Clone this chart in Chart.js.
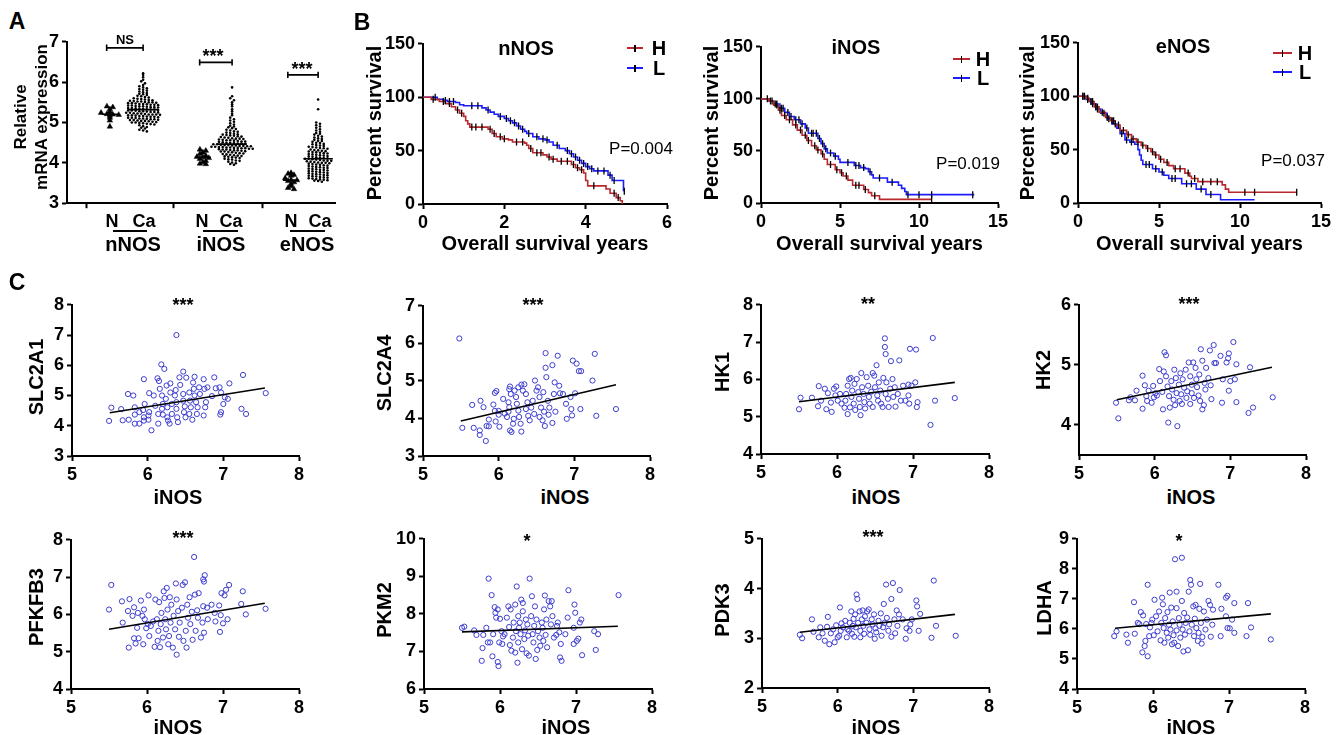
<!DOCTYPE html>
<html>
<head>
<meta charset="utf-8">
<title>NOS figure</title>
<script src="https://cdn.jsdelivr.net/npm/chart.js"></script>
<style>
  body { margin: 0; background: #fff; }
  #fig { position: relative; width: 1343px; height: 735px; overflow: hidden; }
  .t { position: absolute; white-space: nowrap; font-family: 'Liberation Sans', Arial, sans-serif;
       line-height: 1; transform: translate(-50%, -50%); color: #000; z-index: 2; }
  .r { transform: translate(-50%, -50%) rotate(-90deg); }
  .ln { position: absolute; z-index: 2; }
</style>
</head>
<body>
<div id="fig"></div>
<script>
// ---------- panel A : relative mRNA expression ----------
const nNosN  = [5.4, 5.38, 5.33, 5.27, 5.24, 5.21, 5.2, 5.19, 5.17, 5.12, 5.05, 4.9];
const nNosCa = [6.22,6.18,6.12,6.06,6.02,5.97,5.93,5.9,5.87,5.85,5.83,5.81,5.79,5.77,5.75,5.73,5.71,5.7,5.68,5.66,5.65,5.63,5.62,5.6,5.59,5.58,5.57,5.56,5.55,5.54,5.53,5.52,5.52,5.51,5.5,5.5,5.49,5.48,5.48,5.47,5.46,5.46,5.45,5.44,5.44,5.43,5.42,5.42,5.41,5.4,5.4,5.39,5.38,5.38,5.37,5.36,5.36,5.35,5.34,5.34,5.33,5.32,5.32,5.31,5.3,5.3,5.29,5.28,5.28,5.27,5.26,5.26,5.25,5.24,5.24,5.23,5.22,5.22,5.21,5.2,5.2,5.2,5.19,5.18,5.18,5.17,5.16,5.16,5.15,5.14,5.14,5.13,5.12,5.12,5.11,5.1,5.1,5.09,5.08,5.08,5.07,5.06,5.06,5.05,5.04,5.04,5.03,5.02,5.01,5.0,5.0,4.99,4.98,4.97,4.96,4.95,4.93,4.91,4.89,4.87,4.85,4.82,4.8,4.78];
const iNosN  = [4.33, 4.3, 4.26, 4.22, 4.18, 4.15, 4.14, 4.12, 4.1, 4.05, 4.02, 3.98, 3.97];
const iNosCa = [5.87,5.65,5.6,5.55,5.5,5.45,5.4,5.33,5.28,5.22,5.18,5.12,5.08,5.05,5.02,4.98,4.95,4.92,4.9,4.88,4.86,4.84,4.82,4.8,4.78,4.77,4.75,4.74,4.72,4.71,4.7,4.69,4.68,4.67,4.66,4.65,4.64,4.63,4.62,4.61,4.6,4.6,4.59,4.58,4.57,4.56,4.56,4.55,4.54,4.53,4.53,4.52,4.51,4.5,4.5,4.49,4.48,4.48,4.47,4.46,4.46,4.45,4.44,4.44,4.43,4.43,4.42,4.42,4.41,4.41,4.4,4.4,4.39,4.39,4.38,4.38,4.37,4.37,4.36,4.36,4.35,4.35,4.34,4.33,4.33,4.32,4.31,4.31,4.3,4.29,4.28,4.28,4.27,4.26,4.25,4.24,4.23,4.22,4.21,4.2,4.19,4.18,4.17,4.16,4.15,4.14,4.13,4.12,4.1,4.09,4.08,4.06,4.05,4.03,4.01,3.99,3.97,3.95];
const eNosN  = [3.75, 3.73, 3.7, 3.68, 3.62, 3.58, 3.57, 3.55, 3.52, 3.48, 3.42, 3.38, 3.35];
const eNosCa = [5.57,5.33,5.0,4.97,4.93,4.9,4.87,4.83,4.8,4.77,4.74,4.72,4.7,4.67,4.65,4.63,4.61,4.59,4.57,4.55,4.54,4.52,4.5,4.49,4.47,4.46,4.44,4.43,4.42,4.4,4.39,4.38,4.37,4.36,4.35,4.33,4.32,4.31,4.3,4.29,4.28,4.27,4.26,4.25,4.24,4.23,4.22,4.21,4.2,4.19,4.18,4.17,4.16,4.15,4.14,4.13,4.12,4.11,4.1,4.1,4.09,4.08,4.07,4.06,4.05,4.05,4.04,4.03,4.02,4.01,4.0,4.0,3.99,3.98,3.97,3.96,3.95,3.94,3.93,3.92,3.91,3.9,3.89,3.88,3.87,3.86,3.85,3.84,3.83,3.82,3.81,3.8,3.79,3.78,3.77,3.76,3.75,3.74,3.73,3.72,3.71,3.7,3.69,3.68,3.67,3.66,3.65,3.64,3.63,3.62,3.61,3.6,3.59,3.58,3.57,3.56,3.55,3.53];
const sigLevels = [6.85, 6.49, 6.18];
const sigLabels = ['NS', '***', '***'];

// ---------- panel B : Kaplan-Meier ----------
const nNosLT = [0,0.35,0.5,0.6,0.8,0.9,1.0,1.45,1.55,1.65,1.75,1.85,2.0,2.1,2.2,2.3,2.4,2.5,2.55,2.7,2.85,3.0,3.1,3.2,3.35,3.5,3.6,3.7,3.8,3.9,4.0,4.1,4.2,4.55,4.65,4.93];
const nNosLS = [100,98,97,96,95,93,92,90,88,86,84,82,80,78,76,73,70,68,66,63,61,60,58,55,52,50,47,44,41,38,35,33,31,27,22,12];
const nNosLC = [0.3,0.55,0.65,0.75,1.2,1.35,1.6,1.9,2.05,2.15,2.25,2.35,2.45,2.6,2.8,2.95,3.05,3.3,3.55,3.65,3.75,3.85,3.95,4.05,4.15,4.3,4.45,4.6,4.7,4.95];
const nNosHT = [0,0.2,0.4,0.55,0.7,0.8,0.9,1.0,1.05,1.1,1.15,1.6,1.7,1.8,1.95,2.1,2.2,2.5,2.55,2.6,2.7,2.95,3.05,3.15,3.3,3.65,3.75,3.85,3.95,4.0,4.05,4.5,4.6,4.75,4.85,4.9];
const nNosHS = [100,98,96,94,91,88,85,82,78,75,72,70,66,63,61,60,58,57,55,52,48,46,44,42,40,37,34,32,29,22,17,14,10,6,3,0];
const nNosHC = [0.25,0.5,0.65,0.85,0.95,1.2,1.3,1.45,1.65,1.75,1.9,2.0,2.3,2.45,2.65,2.8,2.9,3.1,3.2,3.4,3.55,3.7,3.8,3.9,4.2,4.7,4.8];

const iNosLT = [0,0.5,0.8,1.2,1.5,1.8,2.1,2.5,2.8,3.0,3.6,3.8,4.0,4.2,4.6,4.9,5.0,5.9,6.3,6.6,6.8,7.0,7.1,8.0,8.7,8.9,9.1,9.2,13.5];
const iNosLS = [100,98,95,91,87,83,80,76,72,67,62,57,52,48,45,42,39,36,34,33,30,27,24,20,17,14,11,8,8];
const iNosLC = [0.6,0.9,1.0,1.3,1.4,1.7,1.9,2.2,2.4,2.6,2.9,3.2,3.3,3.5,3.7,3.9,4.1,4.4,4.7,5.5,6.0,6.2,6.5,6.9,7.5,8.3,9.3,10.0,10.8,13.4];
const iNosHT = [0,0.5,0.8,1.1,1.3,1.6,2.0,2.3,2.6,2.9,3.2,3.5,3.8,4.0,4.2,4.7,5.0,5.2,5.5,5.8,6.5,6.8,7.0,7.5,10.8];
const iNosHS = [100,98,94,89,84,80,75,70,65,60,55,51,47,42,37,32,29,26,22,17,13,10,7,3.5,3.5];
const iNosHC = [0.4,0.7,1.0,1.2,1.5,1.8,2.2,2.5,2.8,3.0,3.4,3.6,3.9,4.4,4.8,5.1,5.4,6.0,6.2,6.6,7.2,10.8];

const eNosHT = [0,0.5,0.7,1.0,1.3,1.7,2.0,2.3,2.6,3.0,3.3,3.6,3.9,4.2,4.5,4.7,5.0,5.3,5.6,5.9,6.6,6.9,7.0,7.4,8.9,9.1,9.3,13.5];
const eNosHS = [100,98,95,90,85,80,77,73,68,64,60,57,54,51,48,45,41,38,35,32,28,25,23,20,17,13,10,10];
const eNosHC = [0.3,0.4,0.6,0.8,0.9,1.1,1.2,1.5,1.8,2.1,2.2,2.5,2.8,3.1,3.4,3.7,4.0,4.3,4.6,4.8,5.1,5.5,6.0,6.3,6.8,7.2,7.7,8.2,8.6,10.3,10.9,13.5];
const eNosLT = [0,0.5,0.8,1.1,1.4,1.8,2.1,2.4,2.6,2.9,3.2,3.5,3.7,3.8,3.9,4.0,4.6,5.0,5.3,5.6,6.4,7.3,7.9,8.8,10.9];
const eNosLS = [100,97,93,88,84,79,74,70,65,59,57,55,50,45,40,36,32,29,26,23,18,13,8,3,3];
const eNosLC = [0.3,0.6,0.9,1.2,1.6,1.9,2.3,2.7,3.0,3.3,4.2,4.4,4.8,5.2,5.8,6.0,6.7,7.0,7.6,8.2];
const pValues = ['P=0.004', 'P=0.019', 'P=0.037'];

// ---------- panel C : correlation with iNOS ----------
const fitX = [5.5, 7.55];
const slc2a1 = [[5.49,4.16],[5.52,4.6],[5.65,4.55],[5.67,4.18],[5.74,5.05],[5.81,5.0],[5.75,4.2],[5.83,4.61],[5.83,4.37],[5.83,4.07],[5.89,4.07],[5.89,4.45],[5.95,5.54],[5.94,4.52],[5.96,4.72],[5.95,4.28],[5.95,4.17],[6.02,4.45],[6.01,4.34],[6.02,5.08],[6.05,3.85],[6.01,4.2],[6.08,5.0],[6.1,4.66],[6.14,4.39],[6.14,4.07],[6.13,5.57],[6.15,5.48],[6.18,6.03],[6.22,5.88],[6.16,5.22],[6.19,5.0],[6.2,4.72],[6.19,4.56],[6.2,4.37],[6.25,5.33],[6.24,4.89],[6.26,4.61],[6.26,4.28],[6.27,4.17],[6.29,4.07],[6.3,5.4],[6.3,5.1],[6.32,4.72],[6.32,4.39],[6.38,7.0],[6.37,5.18],[6.36,5.0],[6.38,4.78],[6.38,4.56],[6.39,4.28],[6.4,4.12],[6.42,5.6],[6.43,5.35],[6.47,5.79],[6.51,5.59],[6.47,5.05],[6.47,4.83],[6.49,4.64],[6.48,4.45],[6.5,4.28],[6.55,5.1],[6.56,4.83],[6.57,4.61],[6.55,4.39],[6.59,4.2],[6.6,5.43],[6.62,5.62],[6.61,5.22],[6.62,5.0],[6.64,4.78],[6.66,4.61],[6.65,4.39],[6.68,5.27],[6.69,5.05],[6.74,4.34],[6.74,5.54],[6.75,5.22],[6.77,4.78],[6.76,4.61],[6.79,5.27],[6.85,4.98],[6.88,5.6],[6.9,5.24],[6.95,5.27],[6.96,4.37],[6.97,4.45],[6.97,5.1],[7.0,4.72],[7.02,4.94],[7.06,4.89],[7.08,5.4],[7.24,4.56],[7.26,5.68],[7.3,4.39],[7.56,5.08]];
const slc2a4 = [[5.48,6.13],[5.52,3.75],[5.65,4.36],[5.67,3.75],[5.75,3.68],[5.75,3.56],[5.76,4.47],[5.8,4.3],[5.83,3.4],[5.84,3.8],[5.87,3.79],[5.87,3.97],[5.93,4.37],[5.95,4.2],[5.95,4.68],[5.97,4.73],[5.96,3.92],[6.0,4.1],[6.01,3.78],[6.0,4.2],[6.06,4.52],[6.08,4.13],[6.11,4.04],[6.13,4.18],[6.14,4.78],[6.15,4.85],[6.16,4.65],[6.13,4.43],[6.14,4.3],[6.15,3.68],[6.17,3.64],[6.19,3.86],[6.2,3.99],[6.21,4.74],[6.23,4.57],[6.24,4.39],[6.26,4.21],[6.27,4.04],[6.26,4.83],[6.3,4.9],[6.32,4.74],[6.3,3.65],[6.29,3.86],[6.34,4.91],[6.36,4.65],[6.38,4.43],[6.36,4.25],[6.39,4.07],[6.41,3.95],[6.43,4.29],[6.45,4.47],[6.47,4.12],[6.48,5.01],[6.5,4.74],[6.52,4.83],[6.54,4.57],[6.56,4.29],[6.54,4.04],[6.58,3.95],[6.59,4.7],[6.6,4.18],[6.62,5.74],[6.62,5.35],[6.63,5.1],[6.61,3.8],[6.65,4.47],[6.67,4.29],[6.66,4.1],[6.71,5.42],[6.71,3.88],[6.73,4.65],[6.74,4.96],[6.75,4.18],[6.78,5.67],[6.8,4.87],[6.81,4.67],[6.85,4.65],[6.89,4.39],[6.9,3.99],[6.95,4.57],[6.96,4.25],[6.97,4.08],[6.98,5.54],[7.03,5.46],[7.06,5.26],[7.08,4.25],[7.09,5.26],[7.01,4.67],[7.24,5.01],[7.27,5.72],[7.29,4.07],[7.55,4.25]];
const hk1 = [[5.5,5.2],[5.52,5.51],[5.67,5.51],[5.75,5.28],[5.76,5.82],[5.79,5.43],[5.84,5.75],[5.86,5.2],[5.88,5.63],[5.92,5.38],[5.93,5.13],[5.96,5.75],[5.98,5.57],[5.99,5.81],[6.01,5.43],[6.04,5.61],[6.06,5.35],[6.1,5.24],[6.11,5.43],[6.12,5.61],[6.14,5.07],[6.14,5.83],[6.16,6.01],[6.18,6.04],[6.17,5.25],[6.19,5.53],[6.2,5.7],[6.22,5.35],[6.23,5.88],[6.24,5.18],[6.26,6.01],[6.28,5.66],[6.29,5.48],[6.3,5.26],[6.31,5.04],[6.32,6.17],[6.33,5.79],[6.35,5.61],[6.36,5.39],[6.37,5.22],[6.39,6.06],[6.41,5.83],[6.42,5.53],[6.43,5.35],[6.45,5.67],[6.47,5.26],[6.47,6.17],[6.49,6.1],[6.5,5.79],[6.52,6.38],[6.53,5.57],[6.54,5.43],[6.55,5.92],[6.57,5.7],[6.58,5.35],[6.6,5.26],[6.61,6.04],[6.63,7.1],[6.63,6.87],[6.64,6.68],[6.64,5.61],[6.65,5.92],[6.67,5.48],[6.68,5.26],[6.7,5.75],[6.71,6.49],[6.73,6.01],[6.74,5.53],[6.76,5.79],[6.77,5.27],[6.82,6.51],[6.8,5.61],[6.84,5.43],[6.87,5.83],[6.9,5.43],[6.94,5.86],[6.94,5.57],[6.95,5.35],[6.96,6.82],[7.04,6.8],[6.98,5.83],[7.03,5.92],[7.05,5.26],[7.06,5.39],[7.23,4.78],[7.26,7.11],[7.29,5.43],[7.55,5.5]];
const hk2 = [[5.49,4.37],[5.52,4.11],[5.66,4.41],[5.68,4.46],[5.74,4.41],[5.76,4.57],[5.84,4.82],[5.84,4.27],[5.87,4.66],[5.89,4.48],[5.9,4.4],[5.92,4.57],[5.96,4.37],[5.98,4.65],[5.99,4.46],[6.01,4.53],[6.03,4.49],[6.06,4.93],[6.07,4.73],[6.1,4.55],[6.11,4.26],[6.12,4.89],[6.13,5.21],[6.15,5.16],[6.15,4.81],[6.17,4.64],[6.18,4.04],[6.19,4.48],[6.2,4.29],[6.22,4.73],[6.23,4.59],[6.25,4.42],[6.26,4.92],[6.27,4.33],[6.28,4.78],[6.29,4.53],[6.3,3.98],[6.32,4.67],[6.33,4.4],[6.34,4.86],[6.35,4.51],[6.36,4.35],[6.37,4.76],[6.39,4.62],[6.41,4.92],[6.42,4.45],[6.43,4.56],[6.45,5.04],[6.47,4.81],[6.47,4.35],[6.49,4.67],[6.49,4.53],[6.51,5.04],[6.52,4.45],[6.54,4.95],[6.55,4.76],[6.56,4.63],[6.58,4.49],[6.59,4.84],[6.6,4.4],[6.61,5.26],[6.63,5.07],[6.63,4.26],[6.65,4.33],[6.66,4.7],[6.67,4.59],[6.68,4.95],[6.71,4.78],[6.73,5.24],[6.74,4.66],[6.75,4.43],[6.78,5.33],[6.79,5.03],[6.81,5.03],[6.87,5.15],[6.89,4.37],[6.9,4.76],[6.95,5.04],[6.97,5.11],[6.98,5.19],[6.98,4.57],[7.0,4.73],[7.04,5.38],[7.06,4.76],[7.08,5.01],[7.08,4.38],[7.24,4.2],[7.26,4.96],[7.3,4.29],[7.56,4.46]];
const pfkfb3 = [[5.5,6.13],[5.53,6.79],[5.67,6.35],[5.68,5.78],[5.75,6.09],[5.76,5.11],[5.77,6.41],[5.81,5.96],[5.83,6.19],[5.83,5.36],[5.85,5.22],[5.87,5.64],[5.88,6.04],[5.89,5.36],[5.92,6.37],[5.94,5.96],[5.95,5.2],[5.96,6.13],[5.97,5.87],[5.99,5.63],[6.01,5.74],[6.02,6.51],[6.03,5.42],[6.05,5.69],[6.08,5.81],[6.1,5.13],[6.11,6.4],[6.13,5.87],[6.14,5.29],[6.15,5.56],[6.16,6.33],[6.17,5.12],[6.18,5.74],[6.19,6.04],[6.21,5.38],[6.22,6.62],[6.23,6.44],[6.24,5.87],[6.25,5.6],[6.26,6.71],[6.27,6.13],[6.28,5.2],[6.29,5.42],[6.3,6.46],[6.31,5.78],[6.32,6.26],[6.34,5.11],[6.35,5.96],[6.37,5.6],[6.38,6.83],[6.39,4.92],[6.39,6.4],[6.41,6.09],[6.42,5.4],[6.43,5.78],[6.46,6.18],[6.47,6.79],[6.48,5.29],[6.5,6.86],[6.51,5.56],[6.52,5.11],[6.53,6.26],[6.54,5.91],[6.56,6.46],[6.57,5.74],[6.59,6.07],[6.6,5.32],[6.62,7.54],[6.63,6.53],[6.64,5.56],[6.66,6.11],[6.67,5.91],[6.68,6.57],[6.71,5.38],[6.73,5.78],[6.74,6.22],[6.75,5.51],[6.74,6.94],[6.76,7.05],[6.75,6.88],[6.79,6.18],[6.8,5.87],[6.85,6.26],[6.89,6.04],[6.9,5.81],[6.95,6.24],[6.96,5.53],[6.97,5.98],[6.98,6.57],[7.0,5.76],[7.02,6.51],[7.04,6.66],[7.06,5.87],[7.08,6.79],[7.26,6.62],[7.24,6.28],[7.3,6.0],[7.56,6.15]];
const pkm2 = [[5.5,7.63],[5.53,7.66],[5.66,7.56],[5.69,7.44],[5.76,6.75],[5.77,7.09],[5.78,7.44],[5.82,7.63],[5.84,7.24],[5.85,8.94],[5.87,7.24],[5.89,8.5],[5.9,6.87],[5.91,7.46],[5.93,8.18],[5.94,8.03],[5.95,7.9],[5.97,8.12],[5.97,6.72],[5.98,6.61],[5.99,7.24],[6.0,7.87],[6.02,7.54],[6.03,7.2],[6.04,7.4],[6.06,7.46],[6.09,7.9],[6.11,8.2],[6.12,7.65],[6.13,7.17],[6.14,8.12],[6.15,7.02],[6.17,7.37],[6.18,7.77],[6.2,8.25],[6.2,6.97],[6.21,7.54],[6.22,8.73],[6.23,6.7],[6.24,7.24],[6.24,7.94],[6.25,7.63],[6.26,7.77],[6.27,7.46],[6.28,8.38],[6.29,7.06],[6.3,8.29],[6.3,8.07],[6.32,7.33],[6.33,7.56],[6.34,7.85],[6.35,6.95],[6.36,7.72],[6.37,7.42],[6.38,6.89],[6.39,8.94],[6.41,7.94],[6.42,8.47],[6.43,7.46],[6.44,7.24],[6.45,7.68],[6.46,8.2],[6.47,6.8],[6.48,7.85],[6.49,7.04],[6.5,7.54],[6.52,7.37],[6.53,7.15],[6.55,7.77],[6.56,7.63],[6.57,7.28],[6.58,8.12],[6.59,8.49],[6.6,7.44],[6.61,7.85],[6.62,7.11],[6.64,8.34],[6.66,8.2],[6.67,7.72],[6.68,8.34],[6.69,7.94],[6.71,7.37],[6.74,7.44],[6.75,7.68],[6.76,7.77],[6.78,7.51],[6.79,6.84],[6.81,6.75],[6.8,7.2],[6.86,7.46],[6.89,7.9],[6.9,8.63],[6.97,7.2],[6.97,7.63],[6.98,8.25],[6.99,8.03],[7.01,7.28],[7.03,7.34],[7.05,7.77],[7.07,7.85],[7.08,6.9],[7.24,7.54],[7.26,7.04],[7.29,7.46],[7.56,8.5]];
const pdk3 = [[5.5,3.07],[5.53,3.0],[5.66,3.38],[5.68,3.13],[5.75,3.02],[5.77,3.22],[5.8,3.1],[5.83,2.95],[5.86,3.23],[5.87,3.43],[5.89,2.88],[5.91,3.1],[5.94,3.18],[5.96,2.92],[5.98,3.26],[6.0,3.02],[6.02,3.05],[6.03,3.62],[6.04,3.15],[6.05,3.3],[6.07,3.22],[6.1,3.35],[6.12,3.02],[6.13,3.18],[6.15,3.15],[6.16,3.31],[6.18,3.54],[6.19,3.09],[6.2,3.25],[6.21,3.39],[6.22,3.03],[6.23,3.48],[6.24,3.22],[6.25,3.88],[6.26,3.79],[6.27,3.31],[6.29,3.54],[6.3,3.02],[6.3,3.15],[6.32,3.38],[6.33,3.56],[6.34,3.25],[6.35,3.09],[6.36,3.44],[6.38,3.31],[6.39,3.54],[6.41,3.58],[6.42,3.18],[6.43,3.07],[6.45,3.38],[6.46,3.28],[6.48,3.48],[6.49,2.99],[6.5,3.2],[6.51,3.12],[6.54,3.35],[6.55,3.25],[6.57,3.5],[6.58,3.05],[6.6,3.22],[6.61,3.69],[6.62,3.31],[6.64,4.08],[6.65,3.41],[6.67,3.15],[6.68,3.28],[6.71,3.79],[6.71,3.03],[6.73,4.11],[6.75,3.38],[6.76,3.1],[6.78,3.56],[6.79,3.25],[6.81,3.48],[6.82,3.97],[6.86,3.38],[6.9,2.99],[6.91,3.2],[6.95,3.15],[6.96,3.28],[6.98,3.38],[7.04,3.76],[7.05,3.64],[7.07,3.15],[7.09,3.49],[7.24,3.01],[7.27,4.16],[7.3,3.25],[7.56,3.05]];
const ldha = [[5.49,5.76],[5.52,5.92],[5.65,5.81],[5.67,5.54],[5.75,6.89],[5.76,5.84],[5.8,6.2],[5.82,6.16],[5.84,6.56],[5.86,5.22],[5.87,6.45],[5.89,5.43],[5.9,5.6],[5.91,6.16],[5.93,7.47],[5.93,5.09],[5.95,5.76],[5.96,6.05],[5.98,6.2],[5.99,6.31],[6.01,5.79],[6.02,6.97],[6.04,6.42],[6.06,5.92],[6.08,6.58],[6.1,5.62],[6.11,6.2],[6.12,7.04],[6.13,6.82],[6.14,6.03],[6.15,5.54],[6.16,6.36],[6.18,5.87],[6.19,6.56],[6.2,5.71],[6.21,6.14],[6.22,7.21],[6.23,5.98],[6.24,6.71],[6.25,5.49],[6.26,6.25],[6.27,5.79],[6.28,5.54],[6.29,8.32],[6.31,7.24],[6.31,6.69],[6.31,5.95],[6.33,5.43],[6.34,6.36],[6.35,6.14],[6.36,5.71],[6.38,6.93],[6.38,8.37],[6.39,5.98],[6.4,5.25],[6.41,6.53],[6.42,5.81],[6.43,6.2],[6.45,6.38],[6.46,5.29],[6.47,7.24],[6.48,5.92],[6.49,7.63],[6.5,7.47],[6.51,6.14],[6.53,6.75],[6.54,5.76],[6.55,6.34],[6.56,6.8],[6.57,6.03],[6.59,5.6],[6.6,5.87],[6.61,6.67],[6.62,7.5],[6.63,6.2],[6.64,5.51],[6.65,5.73],[6.67,6.58],[6.69,5.98],[6.71,6.31],[6.73,6.93],[6.75,6.8],[6.76,5.74],[6.78,6.14],[6.79,6.64],[6.86,7.47],[6.89,5.76],[6.9,6.67],[6.96,7.04],[6.98,7.1],[6.96,6.42],[6.98,6.03],[7.01,6.02],[7.04,6.31],[7.07,6.86],[7.07,5.87],[7.23,5.76],[7.25,6.86],[7.29,6.05],[7.55,5.65]];
const fits = { slc2a1: [4.43, 5.25], slc2a4: [3.93, 4.9], hk1: [5.4, 5.92], hk2: [4.42, 4.96],
               pfkfb3: [5.6, 6.3], pkm2: [7.52, 7.67], pdk3: [3.12, 3.48], ldha: [6.02, 6.5] };

// ---------- helpers ----------
Chart.defaults.font.family = "'Liberation Sans', Arial, sans-serif";
Chart.defaults.color = '#000';
const fig = document.getElementById('fig');
const RED = '#b8282c', BLUE = '#1c1cff', DOT = '#3d3dd0';

function txt(s, x, y, size, weight, rot) {
  const d = document.createElement('div');
  d.className = 't' + (rot ? ' r' : '');
  d.textContent = s;
  d.style.left = x + 'px'; d.style.top = y + 'px';
  d.style.fontSize = size + 'px'; d.style.fontWeight = weight;
  fig.appendChild(d);
}
function hline(x1, x2, y, color, w) {
  const d = document.createElement('div');
  d.className = 'ln';
  d.style.cssText += `left:${x1}px;top:${y - w / 2}px;width:${x2 - x1}px;height:${w}px;background:${color}`;
  fig.appendChild(d);
}
function axis(min, max, step, size) {
  return {
    type: 'linear', min: min, max: max,
    ticks: { stepSize: step, color: '#000', font: { size: size || 18, weight: 'bold' }, padding: 3 },
    grid: { display: true, drawOnChartArea: false, drawTicks: true, tickLength: 5, tickWidth: 2, color: '#000' },
    border: { display: true, color: '#000', width: 2 }
  };
}
// area = chart area [left, top, right, bottom] in page px, pad = [L, T, R, B]
function mk(area, pad, datasets, xs, ys) {
  const [l, t, r, b] = area;
  const c = document.createElement('canvas');
  const w = r - l + pad[0] + pad[2], h = b - t + pad[1] + pad[3];
  c.width = w; c.height = h;
  c.style.cssText = `position:absolute;left:${l - pad[0]}px;top:${t - pad[1]}px;width:${w}px;height:${h}px`;
  fig.appendChild(c);
  xs.afterFit = s => { s.height = pad[3]; };
  ys.afterFit = s => { s.width = pad[0]; };
  return new Chart(c, {
    type: 'scatter',
    data: { datasets: datasets },
    options: {
      responsive: false, animation: false, events: [],
      layout: { padding: { left: 0, top: pad[1], right: pad[2], bottom: 0 } },
      plugins: { legend: { display: false }, tooltip: { enabled: false } },
      scales: { x: xs, y: ys }
    }
  });
}
function median(a) {
  const s = a.slice().sort((p, q) => p - q), m = s.length >> 1;
  return s.length % 2 ? s[m] : (s[m - 1] + s[m]) / 2;
}
// horizontal spread of dots sharing a value bin (beeswarm layout)
function swarm(vals, cx, bin, step) {
  const rows = {};
  vals.forEach(v => { const k = Math.round(v / bin); (rows[k] = rows[k] || []).push(v); });
  const out = [];
  Object.values(rows).forEach(r => r.forEach((v, j) => out.push({ x: cx + (j - (r.length - 1) / 2) * step, y: v })));
  return out;
}

// ---------- panel A ----------
const grpX = [[1.6, 2.84], [5.07, 6.16], [8.36, 9.37]];
const grpN = [nNosN, iNosN, eNosN], grpCa = [nNosCa, iNosCa, eNosCa];
const dsA = [];
grpX.forEach((gx, i) => {
  const mN = median(grpN[i]), mC = median(grpCa[i]), lv = sigLevels[i];
  const lineDs = pts => ({ data: pts, showLine: true, borderColor: '#000', borderWidth: 1.6, pointRadius: 0, spanGaps: false });
  dsA.push(lineDs([{ x: gx[0] - 0.3, y: mN }, { x: gx[0] + 0.3, y: mN }]));
  dsA.push(lineDs([{ x: gx[1] - 0.55, y: mC }, { x: gx[1] + 0.55, y: mC }]));
  dsA.push(lineDs([{ x: gx[0] - 0.12, y: lv + 0.08 }, { x: gx[0] - 0.12, y: lv - 0.08 }, { x: gx[0] - 0.12, y: null },
                   { x: gx[0] - 0.12, y: lv }, { x: gx[1], y: lv }, { x: gx[1], y: null },
                   { x: gx[1], y: lv + 0.08 }, { x: gx[1], y: lv - 0.08 }]));
  dsA.push({ data: swarm(grpN[i], gx[0], 0.06, 0.22), pointStyle: 'triangle', pointRadius: 3.2,
             pointBackgroundColor: '#000', pointBorderColor: '#000', pointBorderWidth: 0.5 });
  dsA.push({ data: swarm(grpCa[i], gx[1], 0.06, 0.14), pointRadius: 1.3,
             pointBackgroundColor: '#000', pointBorderColor: '#000', pointBorderWidth: 0 });
});
const xA = axis(0, 10, 1);
xA.afterBuildTicks = s => { s.ticks = [0.71, 3.96, 7.28].map(v => ({ value: v })); };
xA.ticks.callback = () => '';
mk([67, 40, 335, 205], [40, 12, 10, 12], dsA, xA, axis(3, 7, 1));

txt('A', 17, 21, 23, 'bold');
txt('Relative', 20, 117, 17, 'bold', true);
txt('mRNA expression', 41, 117, 17, 'bold', true);
[[125, 39, 13], [213, 56, 18], [302, 69, 18]].forEach((p, i) => txt(sigLabels[i], p[0], p[1], p[2], 'bold'));
[[112, 144], [202, 231], [291, 320]].forEach(p => { txt('N', p[0], 221, 18, 'bold'); txt('Ca', p[1], 221, 18, 'bold'); });
[[113, 147, 133], [203, 238, 221], [290, 325, 307]].forEach((p, i) => {
  hline(p[0], p[1], 231, '#000', 2);
  txt(['nNOS', 'iNOS', 'eNOS'][i], p[2], 244, 20, 'bold');
});

// ---------- panel B ----------
function survAt(ts, ss, t) { let s = ss[0]; ts.forEach((v, i) => { if (v <= t) s = ss[i]; }); return s; }
function kmDatasets(hT, hS, hC, lT, lS, lC) {
  const curve = (ts, ss, col) => ({ data: ts.map((t, i) => ({ x: t, y: ss[i] })), showLine: true, stepped: true,
                                     borderColor: col, borderWidth: 1.6, pointRadius: 0 });
  const cens = (cs, ts, ss) => ({ data: cs.map(t => ({ x: t, y: survAt(ts, ss, t) })), pointStyle: 'line',
                                  pointRotation: 90, pointRadius: 3.5, pointBorderColor: '#000', pointBorderWidth: 1.3 });
  return [cens(hC, hT, hS), cens(lC, lT, lS), curve(hT, hS, RED), curve(lT, lS, BLUE)];
}
const kmPanels = [
  { area: [423, 42, 667, 204], xmax: 6, xstep: 2, ds: kmDatasets(nNosHT, nNosHS, nNosHC, nNosLT, nNosLS, nNosLC),
    name: 'nNOS', title: [526, 48], ylab: 374, leg: [627, 643, 659, 48, 68], p: [641, 148] },
  { area: [761, 45, 998, 203], xmax: 15, xstep: 5, ds: kmDatasets(iNosHT, iNosHS, iNosHC, iNosLT, iNosLS, iNosLC),
    name: 'iNOS', title: [856, 47], ylab: 711, leg: [953, 970, 983, 59, 78], p: [968, 163] },
  { area: [1078, 41, 1321, 203], xmax: 15, xstep: 5, ds: kmDatasets(eNosHT, eNosHS, eNosHC, eNosLT, eNosLS, eNosLC),
    name: 'eNOS', title: [1183, 46], ylab: 1027, leg: [1273, 1292, 1305, 53, 72], p: [1293, 160] }
];
kmPanels.forEach((k, i) => {
  mk(k.area, [48, 12, 14, 30], k.ds, axis(0, k.xmax, k.xstep, 18), axis(0, 150, 50, 18));
  const a = k.area;
  txt(k.name, k.title[0], k.title[1], 20, 'bold');
  txt('Percent survival', k.ylab, 123, 20, 'bold', true);
  txt('Overall survival years', (a[0] + a[2]) / 2, 243, 20, 'bold');
  txt(pValues[i], k.p[0], k.p[1], 17, 'normal');
  [[k.leg[3], RED, 'H'], [k.leg[4], BLUE, 'L']].forEach(g => {
    hline(k.leg[0], k.leg[1], g[0], g[1], 2);
    const m = (k.leg[0] + k.leg[1]) / 2;
    const tk = document.createElement('div');
    tk.className = 'ln';
    tk.style.cssText += `left:${m - 0.6}px;top:${g[0] - 3.5}px;width:1.3px;height:7px;background:#000`;
    fig.appendChild(tk);
    txt(g[2], k.leg[2], g[0], 20, 'bold');
  });
});
txt('B', 362, 22, 23, 'bold');

// ---------- panel C ----------
const genes = [
  { name: 'SLC2A1', pts: slc2a1, fit: fits.slc2a1, y: [3, 8], area: [72, 303, 299, 456], yl: [36, 377], st: [183, 305, '***'], xl: [178, 497] },
  { name: 'SLC2A4', pts: slc2a4, fit: fits.slc2a4, y: [3, 7], area: [423, 304, 650, 456], yl: [384, 373], st: [533, 305, '***'], xl: [565, 497] },
  { name: 'HK1', pts: hk1, fit: fits.hk1, y: [4, 8], area: [761, 303, 989, 454], yl: [722, 372], st: [868, 304, '**'], xl: [876, 497] },
  { name: 'HK2', pts: hk2, fit: fits.hk2, y: [3.5, 6], area: [1079, 303, 1306, 455], yl: [1043, 370], st: [1189, 304, '***'], xl: [1191, 497] },
  { name: 'PFKFB3', pts: pfkfb3, fit: fits.pfkfb3, y: [4, 8], area: [71, 538, 299, 689], yl: [36, 607], st: [183, 538, '***'], xl: [178, 727] },
  { name: 'PKM2', pts: pkm2, fit: fits.pkm2, y: [6, 10], area: [424, 537, 652, 689], yl: [384, 610], st: [527, 541, '*'], xl: [566, 727] },
  { name: 'PDK3', pts: pdk3, fit: fits.pdk3, y: [2, 5], area: [762, 537, 989, 688], yl: [722, 610], st: [873, 537, '***'], xl: [876, 727] },
  { name: 'LDHA', pts: ldha, fit: fits.ldha, y: [4, 9], area: [1077, 537, 1305, 689], yl: [1044, 608], st: [1179, 541, '*'], xl: [1191, 727] }
];
genes.forEach(g => {
  const ds = [
    { data: fitX.map((x, i) => ({ x: x, y: g.fit[i] })), showLine: true, borderColor: '#000', borderWidth: 1.6, pointRadius: 0 },
    { data: g.pts.map(p => ({ x: p[0], y: p[1] })), pointRadius: 2.6, pointBorderWidth: 1,
      pointBorderColor: DOT, pointBackgroundColor: 'rgba(0,0,0,0)' }
  ];
  const ys = axis(g.y[0], g.y[1], 1);
  if (g.y[0] % 1) ys.afterBuildTicks = s => { s.ticks = [4, 5, 6].map(v => ({ value: v })); };
  mk(g.area, [40, 12, 14, 30], ds, axis(5, 8, 1), ys);
  txt(g.name, g.yl[0], g.yl[1], 20, 'bold', true);
  txt(g.st[2], g.st[0], g.st[1], 18, 'bold');
  txt('iNOS', g.xl[0], g.xl[1], 20, 'bold');
});
txt('C', 17, 282, 23, 'bold');
</script>
</body>
</html>
